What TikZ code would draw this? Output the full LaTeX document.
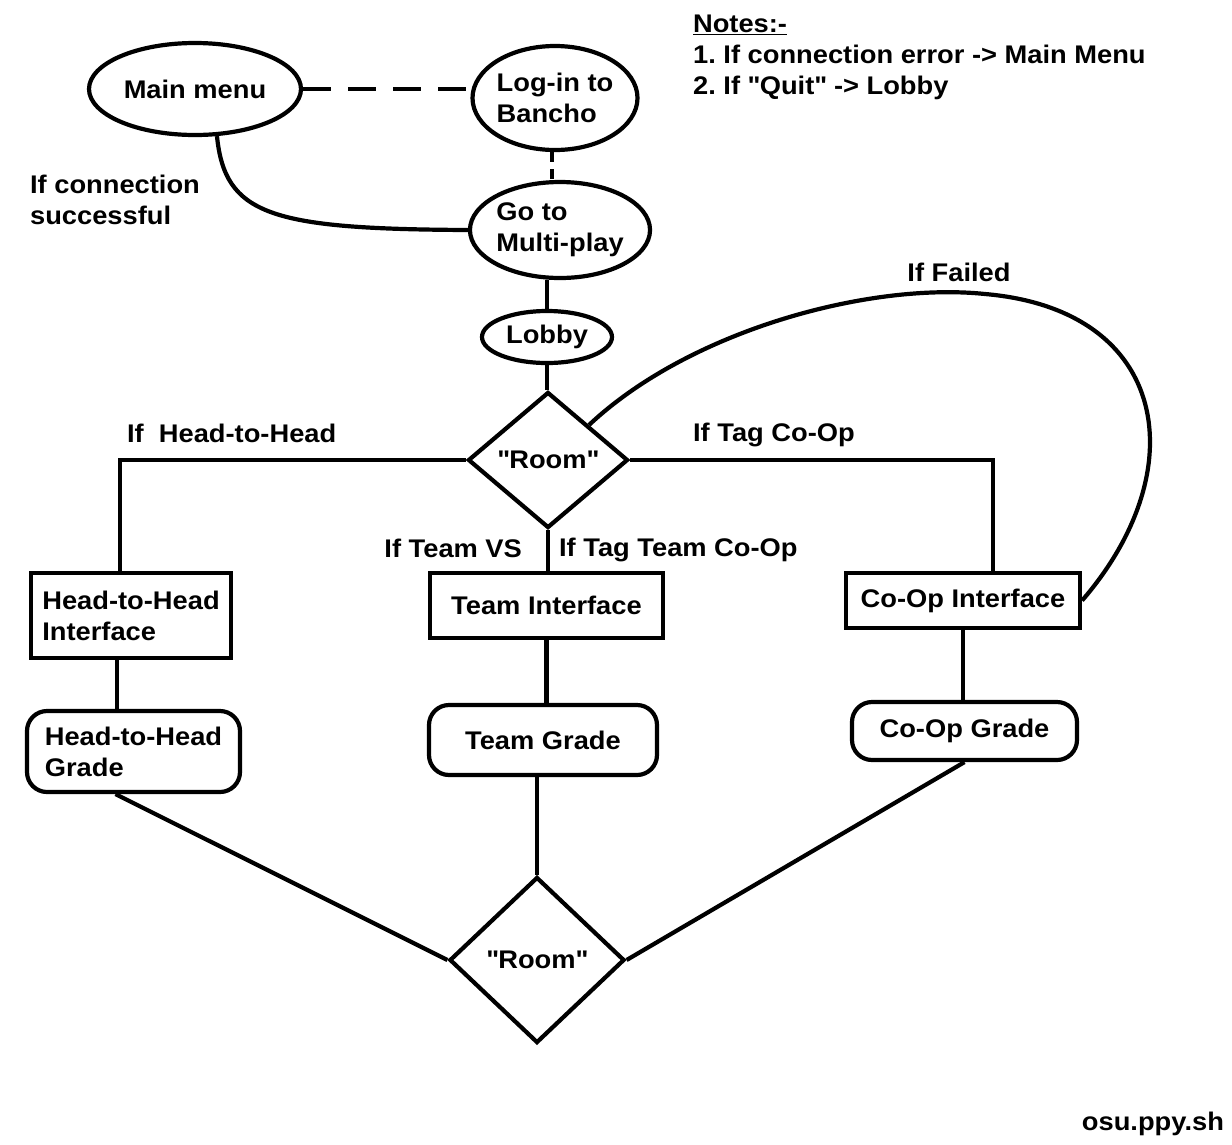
\documentclass[tikz,border=0pt]{standalone}
\usepackage{fontspec}
\setmainfont{Liberation Sans}[FakeStretch=1.07]
\usetikzlibrary{shapes.geometric,positioning}
\frenchspacing

\begin{document}
\begin{tikzpicture}[-,x=1pt,y=-1pt,line width=4.2pt,
    every node/.style={font=\bfseries\fontsize{25.5}{31}\selectfont,inner sep=0pt},
    oval node/.style={ellipse,draw,align=left},
    box node/.style={rectangle,draw,align=left},
    grade node/.style={rectangle,draw,rounded corners=20pt,align=left},
    room node/.style={diamond,draw},
    long dash/.style={dash pattern=on 28pt off 17pt},
    short dash/.style={dash pattern=on 10pt off 7pt}]
            \useasboundingbox (0,0) rectangle (1232,1144);

            \node[oval node,minimum width=212pt,minimum height=92pt] (1) at (195,89) {Main menu};
            \node[oval node,minimum width=164pt,minimum height=104pt] (2) at (555,98) {Log-in to\\Bancho};
            \node[oval node,minimum width=170pt,minimum height=96pt] (3) at (560,230) {Go to\\Multi-play};
            \node[oval node,minimum width=130pt,minimum height=52pt] (4) at (547,337) {Lobby};
            \node[room node,minimum width=160pt,minimum height=136pt] (5) at (548,460) {\textquotedbl Room\textquotedbl};

            \node[box node,minimum width=200pt,minimum height=85pt] (6) at (131,615.5) {Head-to-Head\\Interface};
            \node[box node,minimum width=233pt,minimum height=65pt] (7) at (546.5,605.5) {Team Interface};
            \node[box node,minimum width=234pt,minimum height=55pt] (8) at (963,600.5) {Co-Op Interface};

            \node[grade node,minimum width=213pt,minimum height=81pt] (9) at (133.5,751.5) {Head-to-Head\\Grade};
            \node[grade node,minimum width=228pt,minimum height=70pt] (10) at (543,740) {Team Grade};
            \node[grade node,minimum width=225pt,minimum height=58pt] (11) at (964.5,731) {Co-Op Grade};

            \node[room node,minimum width=175pt,minimum height=166pt] (12) at (537,960) {\textquotedbl Room\textquotedbl};

            \node[anchor=west,align=left] (success) at (28,200) {If connection\\successful};
            \node[anchor=west] (headlabel) at (125,433) {If\ \ Head-to-Head};
            \node[anchor=west] (coplabel) at (691,435) {If Tag Co-Op};
            \node[anchor=east] (vslabel) at (524,548) {If Team VS};
            \node[anchor=west] (taglabel) at (557,550) {If Tag Team Co-Op};
            \node (faillabel) at (959,272) {If Failed};
            \node[anchor=west,align=left] (notes) at (691,57) {\underline{Notes:-}\\1. If connection error -> Main Menu\\2. If \textquotedbl Quit\textquotedbl\ -> Lobby};
            \node[anchor=east] (site) at (1226,1124) {osu.ppy.sh};

            \coordinate (failtop) at (985,294);

            \draw[long dash] (1.east) -- (1.east -| 2.west);
            \draw[short dash] ([xshift=-3pt]2.south) -- ([xshift=-3pt]2.south |- 3.north);
            \draw (1.-65) .. controls (225,215) and (270,229) .. (3.west);
            \draw (4.north |- 3.south) -- (4.north);
            \draw (4.south) -- (4.south |- 5.north);

            \draw (5.west) -| ([xshift=-11pt]6.north);
            \draw (5.south) -- (5.south |- 7.north);
            \draw (5.east) -| ([xshift=30pt]8.north);
            \draw (5.north east) .. controls (690,330) and (870,282) .. (failtop)
                .. controls (1170,310) and (1195,470) .. (8.east);

            \draw ([xshift=-14pt]6.south) -- ([xshift=-14pt]6.south |- 9.north);
            \draw (7.south) -- (7.south |- 10.north);
            \draw (8.south) -- (8.south |- 11.north);

            \draw ([xshift=-18pt]9.south) -- (12.west);
            \draw ([xshift=-6pt]10.south) -- (12.north);
            \draw (11.south) -- (12.east);
        \end{tikzpicture}
\end{document}
